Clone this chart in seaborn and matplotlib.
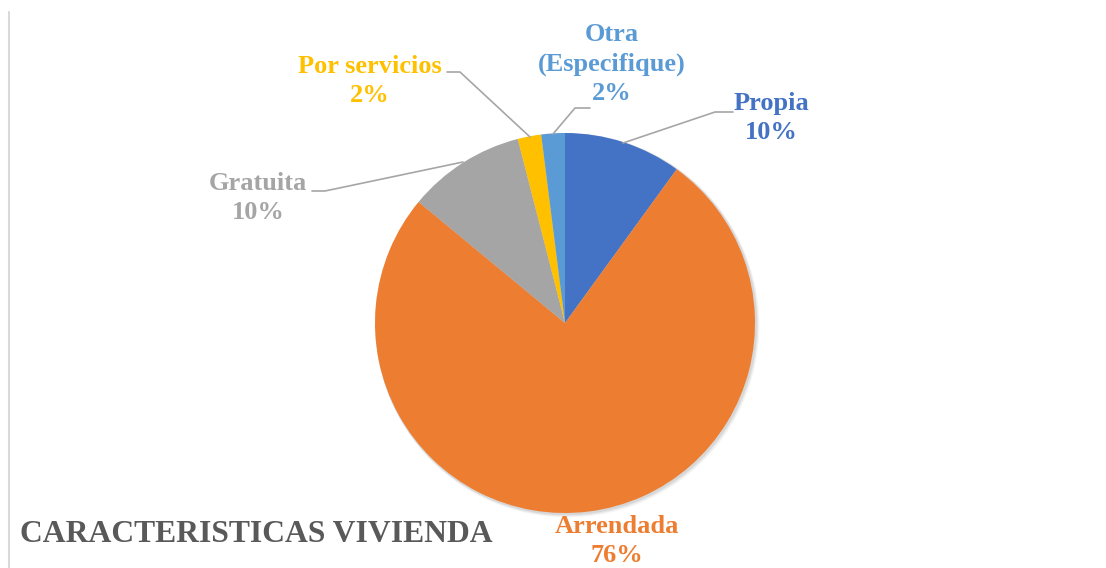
import matplotlib.pyplot as plt
from matplotlib.patches import Circle
from matplotlib.lines import Line2D
import seaborn as sns

# data
categories = ["Propia", "Arrendada", "Gratuita", "Por servicios", "Otra\n(Especifique)"]
values = [10, 76, 10, 2, 2]
pct_labels = ["10%", "76%", "10%", "2%", "2%"]
colors = ["#4472C4", "#ED7D31", "#A5A5A5", "#FFC000", "#5B9BD5"]

sns.set_theme(style="white")
plt.rcParams["font.family"] = ["Liberation Serif", "DejaVu Serif"]

W, H = 1106, 568
fig = plt.figure(figsize=(W / 100, H / 100), dpi=100)
ax = fig.add_axes([0, 0, 1, 1])

# pie centre/radius in pixel units (y up)
cx, cy, r = 565, H - 323, 190

# soft shadow behind the whole pie
for d, a in [(4, 0.04), (3, 0.05), (2, 0.07)]:
    ax.add_patch(Circle((cx + d * 0.6, cy - d * 0.6), r + d * 0.5, color="black",
                        alpha=a, linewidth=0, zorder=0))

wedges, _ = ax.pie(values, colors=colors, startangle=90, counterclock=False,
                   center=(cx, cy), radius=r, frame=True,
                   wedgeprops=dict(linewidth=0, zorder=1))
ax.set_xlim(0, W)
ax.set_ylim(0, H)
ax.set_aspect("equal")
ax.axis("off")

# label positions (text centre) and leader lines, in pixel coords (y down)
label_pos = [(771, 118), (617, 541), (258, 198), (370, 81), (612, 64)]
leaders = [
    [(623, 143), (715, 112), (733, 112)],
    None,
    [(463, 162), (325, 191), (312, 191)],
    [(530, 137), (460, 72), (447, 72)],
    [(553, 134), (575, 108), (590, 108)],
]

for name, pct, col, (tx, ty), ld in zip(categories, pct_labels, colors, label_pos, leaders):
    ax.text(tx, H - ty, f"{name}\n{pct}", color=col, fontsize=19, fontweight="bold",
            ha="center", va="center", linespacing=1.34)
    if ld:
        xs = [p[0] for p in ld]
        ys = [H - p[1] for p in ld]
        ax.plot(xs, ys, color="#A6A6A6", linewidth=1.2, zorder=2)

ax.text(20, H - 535, "CARACTERISTICAS VIVIENDA", color="#595959", fontsize=22.8,
        fontweight="bold", ha="left", va="center")

# thin border on the left
fig.add_artist(Line2D([9 / W, 9 / W], [0, 1 - 12 / H], transform=fig.transFigure,
                      color="#D9D9D9", linewidth=1.5))

fig.savefig("out.png", dpi=100)
